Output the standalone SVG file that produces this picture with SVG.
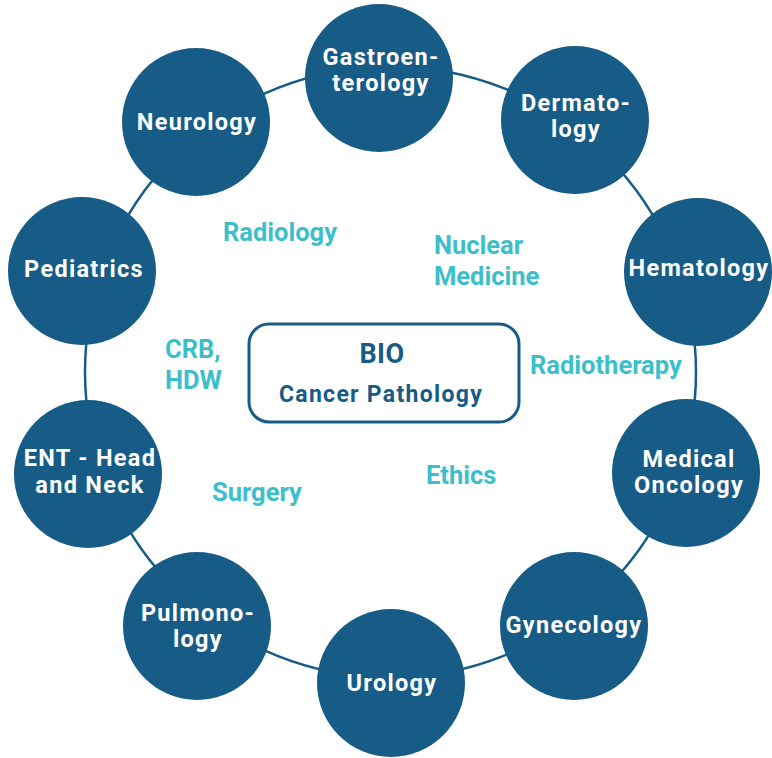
<svg xmlns="http://www.w3.org/2000/svg" width="772" height="758" viewBox="0 0 772 758">
<style>
.node{fill:#165C86}
.nt{font-family:Roboto,"Liberation Sans",sans-serif;font-weight:bold;font-size:23.5px;fill:#ffffff;text-anchor:middle;letter-spacing:1.3px}
.lab{font-family:Roboto,"Liberation Sans",sans-serif;font-weight:bold;font-size:25.5px;fill:#3CBFCB}
.ct{font-family:Roboto,"Liberation Sans",sans-serif;font-weight:bold;font-size:23px;fill:#165C86;text-anchor:middle;letter-spacing:1.3px}
.big{font-size:27px;letter-spacing:0.5px}
</style>
<rect width="772" height="758" fill="#ffffff"/>
<g id="connectors">
<circle cx="390.5" cy="372" r="305.5" fill="none" stroke="#165C86" stroke-width="2.5"/>
</g>
<g id="center">
<rect x="249" y="324" width="270" height="98" rx="20" fill="#ffffff" stroke="#165C86" stroke-width="3"/>
<text class="ct big" x="382" y="363">BIO</text>
<text class="ct" x="381" y="402">Cancer Pathology</text>
</g>
<g id="gastroenterology"><circle class="node" cx="379" cy="78" r="74"/><text class="nt" x="381" y="65">Gastroen-</text><text class="nt" x="381" y="91">terology</text></g>
<g id="dermatology"><circle class="node" cx="575" cy="120" r="74"/><text class="nt" x="576" y="111">Dermato-</text><text class="nt" x="576" y="137">logy</text></g>
<g id="hematology"><circle class="node" cx="698" cy="272" r="74"/><text class="nt" x="699" y="276">Hematology</text></g>
<g id="medical-oncology"><circle class="node" cx="686" cy="473" r="74"/><text class="nt" x="689" y="467">Medical</text><text class="nt" x="689" y="493">Oncology</text></g>
<g id="gynecology"><circle class="node" cx="574" cy="626" r="74"/><text class="nt" x="574" y="633">Gynecology</text></g>
<g id="urology"><circle class="node" cx="391" cy="683" r="74"/><text class="nt" x="392" y="691">Urology</text></g>
<g id="pulmonology"><circle class="node" cx="197" cy="626" r="74"/><text class="nt" x="198" y="621">Pulmono-</text><text class="nt" x="198" y="647">logy</text></g>
<g id="ent"><circle class="node" cx="88" cy="474" r="74"/><text class="nt" x="90" y="466">ENT - Head</text><text class="nt" x="90" y="493">and Neck</text></g>
<g id="pediatrics"><circle class="node" cx="82" cy="271" r="74"/><text class="nt" x="84" y="277">Pediatrics</text></g>
<g id="neurology"><circle class="node" cx="196" cy="122" r="74"/><text class="nt" x="197" y="130">Neurology</text></g>
<g id="labels">
<text class="lab" x="223" y="241">Radiology</text>
<text class="lab" x="434" y="254">Nuclear</text>
<text class="lab" x="434" y="285">Medicine</text>
<text class="lab" x="165" y="358">CRB,</text>
<text class="lab" x="165" y="389">HDW</text>
<text class="lab" x="530" y="374">Radiotherapy</text>
<text class="lab" x="212" y="501">Surgery</text>
<text class="lab" x="426" y="484">Ethics</text>
</g>
</svg>
